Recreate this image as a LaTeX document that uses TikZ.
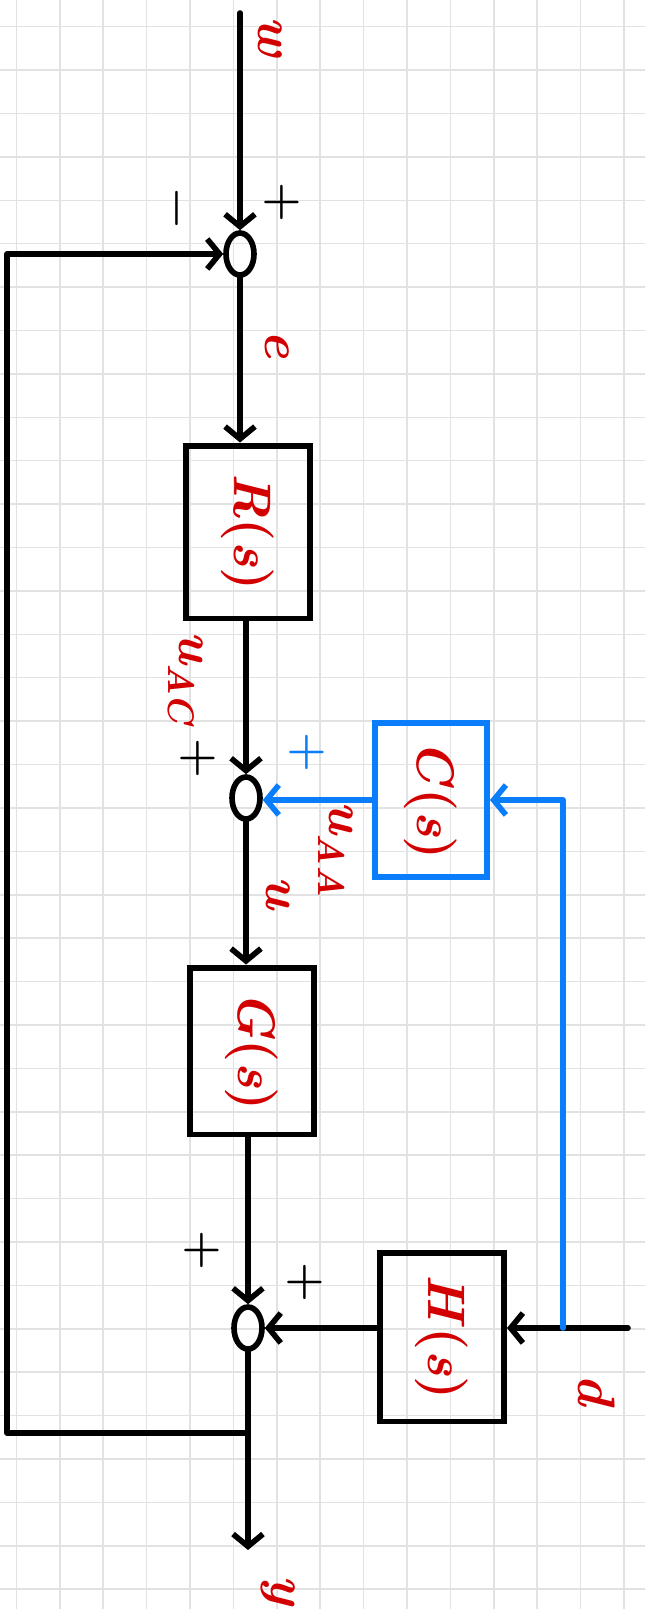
\documentclass[tikz,border=0pt]{standalone}
\usepackage{graphicx}
\usetikzlibrary{arrows.meta,shapes.geometric}
\definecolor{Pen}{HTML}{D20000}
\definecolor{Ff}{HTML}{0A7EFA}
\definecolor{Paper}{HTML}{E2E2E2}
\tikzset{
  >={Straight Barb[length=7pt,width=17pt]},
  sumpt/.style={ellipse,draw,line width=3.2pt,minimum width=.56cm,minimum height=.84cm,inner sep=0pt},
  blk/.style={rectangle,draw,line width=3.4pt,inner sep=0pt,font=\fontsize{30}{30}\selectfont\bfseries,text=Pen},
  ffblk/.style={blk,draw=Ff},
  sig/.style={line width=3.2pt,line cap=round,line join=round},
  ffsig/.style={sig,draw=Ff},
  lab/.style={text=Pen,font=\fontsize{30}{30}\selectfont\bfseries\itshape,rotate=-90,inner sep=0pt},
  sgn/.style={font=\fontsize{26}{26}\selectfont\bfseries,rotate=-90,inner sep=0pt}
}
\begin{document}
\begin{tikzpicture}[x=0.02cm,y=-0.02cm]
  \useasboundingbox (0,0) rectangle (645,1609);
  % squared paper
  \foreach \i in {0,...,14} \draw[Paper,line width=.9pt] ({16.4+43.4*\i},0) -- ++(0,1609);
  \foreach \j in {0,...,36} \draw[Paper,line width=.9pt] (0,{26.7+43.4*\j}) -- ++(645,0);
  % sums and blocks
  \node[sumpt] (sumw) at (240,254) {};
  \node[blk,minimum width=2.48cm,minimum height=3.46cm] (blkR) at (248,532) {\rotatebox{-90}{\textit{R}(\textit{s})}};
  \node[sumpt] (sumu) at (246,798) {};
  \node[ffblk,minimum width=2.24cm,minimum height=3.08cm] (blkC) at (431,800) {\rotatebox{-90}{\textit{C}(\textit{s})}};
  \node[blk,minimum width=2.48cm,minimum height=3.34cm] (blkG) at (252,1051) {\rotatebox{-90}{\textit{G}(\textit{s})}};
  \node[sumpt] (sumy) at (248,1328) {};
  \node[blk,minimum width=2.48cm,minimum height=3.38cm] (blkH) at (442,1337) {\rotatebox{-90}{\textit{H}(\textit{s})}};
  \coordinate (win) at (240,13);
  \coordinate (yout) at (248,1550);
  \coordinate (fbtap) at (248,1433);
  \coordinate (fbleft) at (7,1433);
  \coordinate (din) at (628,1328);
  \coordinate (dtap) at (563,1328);
  % connectors
  \draw[sig,->] (win) -- (sumw.north);
  \draw[sig,->] (sumw.south) -- (sumw.south |- blkR.north);
  \draw[sig,->] (sumu.north |- blkR.south) -- (sumu.north);
  \draw[sig,->] (sumu.south) -- (sumu.south |- blkG.north);
  \draw[sig,->] (sumy.north |- blkG.south) -- (sumy.north);
  \draw[sig,->] (sumy.south) -- (yout);
  \draw[sig,->] (fbtap) -- (fbleft) |- (sumw.west);
  \draw[sig,->] (din) -- (din -| blkH.east);
  \draw[sig,->] (sumy.east -| blkH.west) -- (sumy.east);
  \draw[ffsig,->] (dtap) |- (blkC.east);
  \draw[ffsig,->] (blkC.west) -- (blkC.west -| sumu.east);
  % labels
  \node[lab] (lw) at (270,37) {w};
  \node[lab] (le) at (277,345) {e};
  \node[lab] (luac) at (186,678) {u\textsubscript{AC}};
  \node[lab] (luaa) at (336,850) {u\textsubscript{AA}};
  \node[lab] (lu) at (278,893) {u};
  \node[lab] (ld) at (597,1390) {d};
  \node[lab] (ly) at (278,1590) {y};
  \node[sgn] (pw) at (282,202) {+};
  \node[sgn] (mfb) at (172,208) {\textminus};
  \node[sgn] (pac) at (198,758) {+};
  \node[sgn,text=Ff] (paa) at (307,752) {+};
  \node[sgn] (pg) at (202,1250) {+};
  \node[sgn] (ph) at (305,1282) {+};
\end{tikzpicture}
\end{document}
